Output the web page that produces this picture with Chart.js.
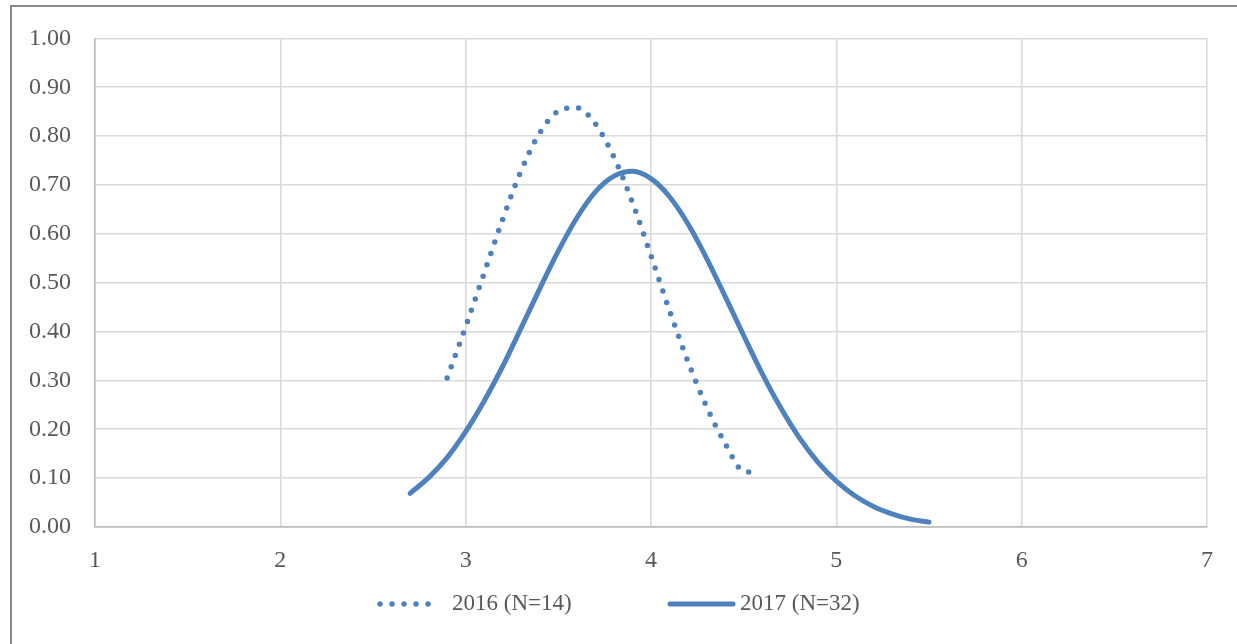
<!DOCTYPE html>
<html>
<head>
<meta charset="utf-8">
<script src="https://cdn.jsdelivr.net/npm/chart.js@4"></script>
<style>
  html, body { margin: 0; padding: 0; background: #fff; }
  #wrap { position: relative; width: 1237px; height: 644px; overflow: hidden; }
  #frame { position: absolute; left: 10px; top: 5px; width: 1300px; height: 700px;
           border-left: 2px solid #898989; border-top: 2px solid #898989; }
  #chart { position: absolute; left: 0; top: 0; }
</style>
</head>
<body>
<div id="wrap">
  <div id="frame"></div>
  <canvas id="chart" width="1237" height="644"></canvas>
</div>
<script>
// values
const x2016 = [2.9, 3.0, 3.1, 3.2, 3.3, 3.4, 3.5, 3.6, 3.7, 3.8, 3.9, 4.0, 4.1, 4.2, 4.3, 4.4, 4.5, 4.58];
const y2016 = [0.305, 0.41, 0.52, 0.63, 0.73, 0.807, 0.851, 0.858, 0.825, 0.757, 0.664, 0.555, 0.443, 0.338, 0.246, 0.171, 0.114, 0.112];

const x2017 = [2.7, 2.8, 2.9, 3.0, 3.1, 3.2, 3.3, 3.4, 3.5, 3.6, 3.7, 3.8, 3.9, 4.0, 4.1,
               4.2, 4.3, 4.4, 4.5, 4.6, 4.7, 4.8, 4.9, 5.0, 5.1, 5.2, 5.3, 5.4, 5.5];
const y2017 = [0.069, 0.101, 0.142, 0.195, 0.258, 0.329, 0.408, 0.488, 0.565, 0.633, 0.686, 0.718, 0.728, 0.713, 0.676,
               0.62, 0.55, 0.472, 0.392, 0.314, 0.244, 0.183, 0.133, 0.094, 0.064, 0.042, 0.027, 0.016, 0.01];

const seriesLabels = ["2016 (N=14)", "2017 (N=32)"];
const xTicks = [1, 2, 3, 4, 5, 6, 7];
const yTicks = [0, 0.1, 0.2, 0.3, 0.4, 0.5, 0.6, 0.7, 0.8, 0.9, 1.0];

const blue = "#4f81bd";
const textColor = "#595959";
const font = "Liberation Serif";

const toPoints = (xs, ys) => xs.map((x, i) => ({ x: x, y: ys[i] }));

// legend drawn by hand so it looks like the Excel one
const legendPlugin = {
    id: "excelLegend",
    afterDraw(chart) {
        const ctx = chart.ctx;
        const items = [
            { ds: chart.data.datasets[0], x0: 380, x1: 440, tx: 452 },
            { ds: chart.data.datasets[1], x0: 670, x1: 733, tx: 740 }
        ];
        const y = 604;
        ctx.save();
        items.forEach(it => {
            ctx.beginPath();
            ctx.strokeStyle = it.ds.borderColor;
            ctx.lineWidth = it.ds.borderWidth;
            ctx.lineCap = "round";
            ctx.setLineDash(it.ds.borderDash || []);
            ctx.moveTo(it.x0, y);
            ctx.lineTo(it.x1, y);
            ctx.stroke();
            ctx.setLineDash([]);
            ctx.fillStyle = textColor;
            ctx.font = "23px '" + font + "'";
            ctx.textBaseline = "middle";
            ctx.textAlign = "left";
            ctx.fillText(it.ds.label, it.tx, y);
        });
        ctx.restore();
    }
};

new Chart(document.getElementById("chart").getContext("2d"), {
    type: "scatter",
    data: {
        datasets: [
            {
                label: seriesLabels[0],
                data: toPoints(x2016, y2016),
                showLine: true,
                borderColor: blue,
                borderWidth: 5.5,
                borderDash: [0, 12],
                borderCapStyle: "round",
                cubicInterpolationMode: "monotone",
                pointRadius: 0
            },
            {
                label: seriesLabels[1],
                data: toPoints(x2017, y2017),
                showLine: true,
                borderColor: blue,
                borderWidth: 5,
                borderCapStyle: "round",
                cubicInterpolationMode: "monotone",
                pointRadius: 0
            }
        ]
    },
    options: {
        responsive: false,
        animation: false,
        layout: { padding: { top: 37, right: 30, left: 0, bottom: 0 } },
        plugins: {
            legend: { display: false },
            tooltip: { enabled: false }
        },
        scales: {
            x: {
                type: "linear",
                min: 1,
                max: 7,
                afterBuildTicks: s => { s.ticks = xTicks.map(v => ({ value: v })); },
                afterFit: s => { s.height = 117; },
                ticks: { color: textColor, font: { family: font, size: 24 }, padding: 19 },
                grid: { color: "#d9d9d9", lineWidth: 1.6, drawTicks: false },
                border: { color: "#bfbfbf", width: 1.8 }
            },
            y: {
                min: 0,
                max: 1,
                afterBuildTicks: s => { s.ticks = yTicks.map(v => ({ value: v })); },
                afterFit: s => { s.width = 95; },
                ticks: {
                    color: textColor,
                    font: { family: font, size: 24 },
                    padding: 24,
                    callback: v => v.toFixed(2)
                },
                grid: { color: "#d9d9d9", lineWidth: 1.6, drawTicks: false },
                border: { color: "#bfbfbf", width: 1.6 }
            }
        }
    },
    plugins: [legendPlugin]
});
</script>
</body>
</html>
